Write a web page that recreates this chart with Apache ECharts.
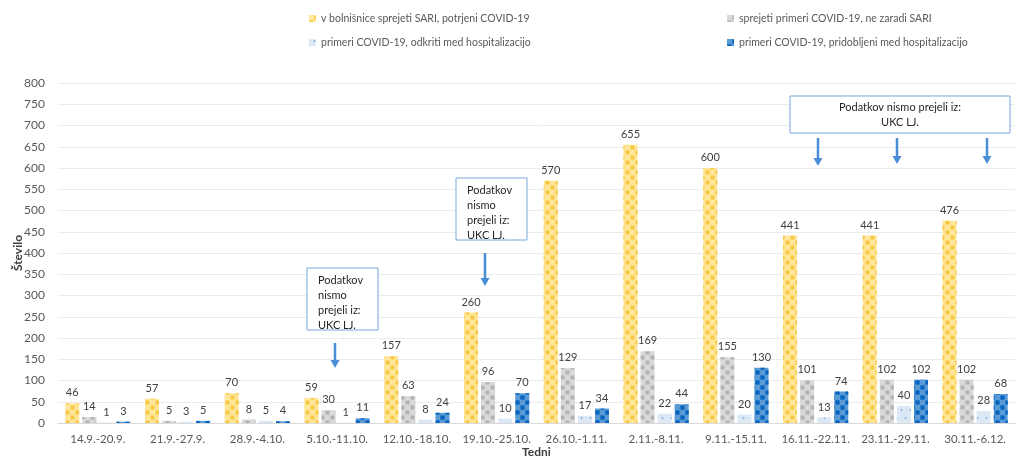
<!DOCTYPE html>
<html>
<head>
<meta charset="utf-8">
<script src="https://cdn.jsdelivr.net/npm/echarts@6/dist/echarts.min.js"></script>
<style>html,body{margin:0;padding:0;background:#fff}#c{width:1022px;height:463px}</style>
</head>
<body>
<div id="c"></div>
<script>
const categories = ['14.9.-20.9.','21.9.-27.9.','28.9.-4.10.','5.10.-11.10.','12.10.-18.10.','19.10.-25.10.','26.10.-1.11.','2.11.-8.11.','9.11.-15.11.','16.11.-22.11.','23.11.-29.11.','30.11.-6.12.'];
const seriesNames = ['v bolnišnice sprejeti SARI, potrjeni COVID-19','sprejeti primeri COVID-19, ne zaradi SARI','primeri COVID-19, odkriti med hospitalizacijo','primeri COVID-19, pridobljeni med hospitalizacijo'];
const sari = [46,57,70,59,157,260,570,655,600,441,441,476];
const notSari = [14,5,8,30,63,96,129,169,155,101,102,102];
const detected = [1,3,5,1,8,10,17,22,20,13,40,28];
const acquired = [3,5,4,11,24,70,34,44,130,74,102,68];
const yTicks = [0,800,50];

const FONT = 'Lato, "Open Sans", sans-serif';
const chart = echarts.init(document.getElementById('c'), null, {renderer:'canvas'});

const styles = [
  {color:'#FFE699', decal:{symbol:'rect', color:'#F6C843', symbolSize:0.8, dashArrayX:[[5,5],[0,5,5,0]], dashArrayY:[5,0]}},
  {color:'#D9D9D9', decal:{symbol:'rect', color:'#B3B3B3', symbolSize:0.8, dashArrayX:[[5,5],[0,5,5,0]], dashArrayY:[5,0]}},
  {color:'#DCE8F6', decal:{symbol:'rect', color:'#86AEDF', symbolSize:0.5, dashArrayX:[[3,6],[0,4,3,2]], dashArrayY:[4,4]}},
  {color:'#5B9BD5', decal:{symbol:'rect', color:'#0563C1', symbolSize:0.85, dashArrayX:[[5,5],[0,5,5,0]], dashArrayY:[5,0]}}
];
const dataArr = [sari, notSari, detected, acquired];

const legendPos = [[304,8],[722,8],[304,32],[722,32]];

function box(x, y, w, h, tx, ty, text, align) {
  return {type:'group', z:100, children:[
    {type:'rect', z:100, shape:{x:x,y:y,width:w,height:h}, style:{fill:'#fff', stroke:'#7BA7DA', lineWidth:1}},
    {type:'text', z:101, style:{x:tx, y:ty, text:text, align:align||'left', fontSize:11, lineHeight:15, fill:'#262626', fontFamily:FONT}}
  ]};
}

chart.setOption({
  animation:false,
  textStyle:{fontFamily:FONT},
  legend: seriesNames.map((n,i)=>({
    data:[n], left:legendPos[i][0], top:legendPos[i][1], icon:'rect', itemWidth:7, itemHeight:7, itemGap:4,
    textStyle:{fontSize:10.5, color:'#595959', fontFamily:FONT}
  })),
  grid:{left:58, right:7, top:83, bottom:40, containLabel:false, outerBoundsMode:'none'},
  xAxis:{
    type:'category', data:categories,
    name:'Tedni', nameLocation:'middle', nameGap:23, nameMoveOverlap:false,
    nameTextStyle:{fontSize:12, fontWeight:'bold', color:'#404040'},
    axisLine:{lineStyle:{color:'#D9D9D9'}}, axisTick:{show:false},
    axisLabel:{fontSize:11.5, color:'#595959', margin:10, interval:0}
  },
  yAxis:{
    type:'value', min:yTicks[0], max:yTicks[1], interval:yTicks[2],
    name:'Število', nameLocation:'middle', nameGap:34, nameRotate:90, nameMoveOverlap:false,
    nameTextStyle:{fontSize:12, fontWeight:'bold', color:'#404040'},
    axisLine:{show:false}, axisTick:{show:false},
    axisLabel:{fontSize:12, color:'#595959', margin:13},
    splitLine:{lineStyle:{color:'#EBEBEB'}}
  },
  series: seriesNames.map((n,i)=>({
    name:n, type:'bar', data:dataArr[i], barWidth:14, barGap:'22%',
    itemStyle:Object.assign({}, styles[i]),
    label:{show:true, position:'top', distance:5, fontSize:11, color:'#404040'}
  })),
  graphic:[
    box(307,268,71,62,318,273,'Podatkov\nnismo\nprejeli iz:\nUKC LJ.'),
    box(456,178,71,62,467,183,'Podatkov\nnismo\nprejeli iz:\nUKC LJ.'),
    box(790,96,220,37,900,100,'Podatkov nismo prejeli iz:\nUKC LJ.','center'),
    ...[[335,343,368],[485,253,286],[818,138,166],[897,138,164],[987,138,164]].map(a=>({type:'group', z:100, children:[
      {type:'line', z:100, shape:{x1:a[0],y1:a[1],x2:a[0],y2:a[2]-6}, style:{stroke:'#4A8FD6', lineWidth:2.5}},
      {type:'polygon', z:100, shape:{points:[[a[0]-4.5,a[2]-8],[a[0]+4.5,a[2]-8],[a[0],a[2]]]}, style:{fill:'#4A8FD6'}}
    ]}))
  ]
});
</script>
</body>
</html>
